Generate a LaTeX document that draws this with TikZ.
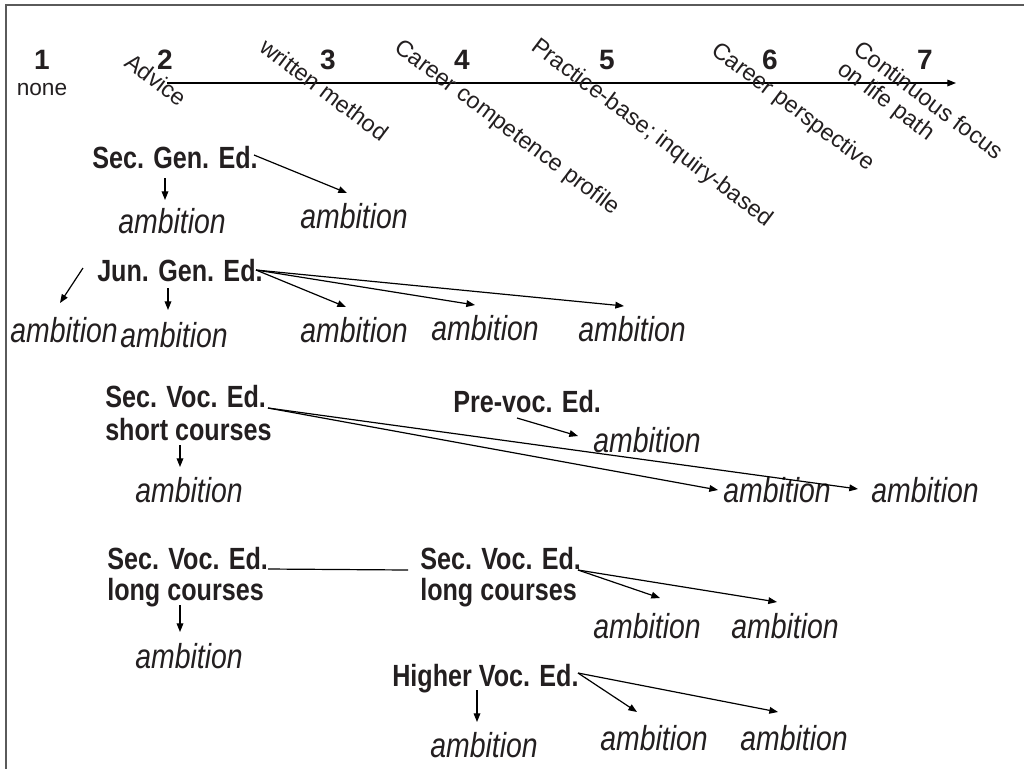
\documentclass[tikz,border=0pt]{standalone}
\usepackage{fontspec}
\setmainfont{Liberation Sans}
\newfontfamily\narrowfont[FakeStretch=0.82]{Liberation Sans}
\usetikzlibrary{arrows.meta,calc}
\definecolor{ink}{HTML}{231F20}
\definecolor{framegray}{HTML}{5A5A5A}
\tikzset{
  lbl/.style={inner sep=0pt, anchor=base west, text=ink,
    font=\narrowfont\bfseries\fontsize{23}{24}\selectfont},
  amb/.style={inner sep=0pt, anchor=base west, text=ink,
    font=\narrowfont\itshape\fontsize{26}{28}\selectfont},
  num/.style={inner sep=0pt, anchor=base, text=ink,
    font=\bfseries\fontsize{21}{24}\selectfont},
  lvl/.style={inner sep=0pt, anchor=base west, rotate=-37, text=ink,
    font=\fontsize{17.5}{20}\selectfont},
  arr/.style={-{Triangle[length=6.5pt,width=5pt]}, line width=0.9pt, draw=black},
  link/.style={line width=0.9pt, draw=black},
}
\begin{document}
\begin{tikzpicture}[x=0.75pt,y=-0.75pt]
\useasboundingbox (0,0) rectangle (1024,769);

% frame
\draw[framegray, line width=1.5pt] (1024,5) -- (6,5) -- (6,769);

% scale of levels
\node[num] (n1) at (42,69) {1};
\node[num] (n2) at (165,69) {2};
\node[num] (n3) at (328,69) {3};
\node[num] (n4) at (462,69) {4};
\node[num] (n5) at (607,69) {5};
\node[num] (n6) at (770,69) {6};
\node[num] (n7) at (925,69) {7};
\node[inner sep=0pt, anchor=base, text=ink, font=\fontsize{17}{20}\selectfont] (none) at (42,95) {none};

\coordinate (axL) at (167,83);
\coordinate (axR) at (956,83);
\draw[arr] (axL) -- (axR);

\node[lvl] (l2) at (123,65) {Advice};
\node[lvl] (l3) at (258,50) {written method};
\node[lvl] (l4) at (393,50) {Career competence profile};
\node[lvl] (l5) at (530,49) {Practice-base; inquiry-based};
\node[lvl] (l6) at (710,53) {Career perspective};
\node[lvl] (l7a) at (852,52) {Continuous focus};
\node[lvl] (l7b) at (836,72) {on life path};

% secondary general education
\node[lbl] (sge) at (92,168) {Sec. Gen. Ed.};
\node[amb] (a1) at (118,233) {ambition};
\node[amb] (a2) at (300,228) {ambition};
\draw[arr] ($(sge.base west)+(73,10)$) -- ($(a1.base west)+(47,-33)$);
\draw[arr] ($(sge.base west)+(162,-13)$) -- ($(a2.base west)+(47,-35)$);

% junior general education
\node[lbl] (jge) at (97,281) {Jun. Gen. Ed.};
\node[amb] (b1) at (10,342) {ambition};
\node[amb] (b2) at (120,347) {ambition};
\node[amb] (b3) at (300,342) {ambition};
\node[amb] (b4) at (431,340) {ambition};
\node[amb] (b5) at (578,341) {ambition};
\draw[arr] ($(jge.base west)+(-14,-13)$) -- ($(b1.base west)+(50,-39)$);
\draw[arr] ($(jge.base west)+(71,7)$) -- ($(b2.base west)+(48,-37)$);
\draw[arr] ($(jge.base west)+(159,-11)$) -- ($(b3.base west)+(46,-35)$);
\draw[arr] ($(jge.base west)+(159,-11)$) -- ($(b4.base west)+(44,-35)$);
\draw[arr] ($(jge.base west)+(159,-11)$) -- ($(b5.base west)+(46,-35)$);

% secondary vocational education, short courses
\node[lbl] (svs) at (105,407) {Sec. Voc. Ed.};
\node[lbl] (svs2) at (105,440) {short courses};
\node[amb] (c1) at (135,502) {ambition};
\node[lbl] (pve) at (453,412) {Pre-voc. Ed.};
\node[amb] (c2) at (593,452) {ambition};
\node[amb] (c3) at (723,502) {ambition};
\node[amb] (c4) at (871,502) {ambition};
\draw[arr] ($(svs2.base west)+(75,5)$) -- ($(c1.base west)+(45,-35)$);
\draw[arr] ($(svs.base west)+(163,1)$) -- ($(c3.base west)+(-5,-12)$);
\draw[arr] ($(svs.base west)+(163,1)$) -- ($(c4.base west)+(-13,-13)$);
\draw[arr] ($(pve.base west)+(64,6)$) -- ($(c2.base west)+(-15,-16)$);

% secondary vocational education, long courses
\node[lbl] (svl) at (107,569) {Sec. Voc. Ed.};
\node[lbl] (svl3) at (107,600) {long courses};
\node[amb] (d1) at (135,668) {ambition};
\node[lbl] (svr) at (420,569) {Sec. Voc. Ed.};
\node[lbl] (svr3) at (420,600) {long courses};
\node[amb] (d2) at (593,638) {ambition};
\node[amb] (d3) at (731,638) {ambition};
\draw[link] ($(svl.base west)+(161,0)$) -- ($(svr.base west)+(-12,1)$);
\draw[arr] ($(svl3.base west)+(73,5)$) -- ($(d1.base west)+(45,-36)$);
\draw[arr] ($(svr.base west)+(158,1)$) -- ($(d2.base west)+(67,-40)$);
\draw[arr] ($(svr.base west)+(158,1)$) -- ($(d3.base west)+(46,-36)$);

% higher vocational education
\node[lbl] (hve) at (392,686) {Higher Voc. Ed.};
\node[amb] (e1) at (430,757) {ambition};
\node[amb] (e2) at (600,750) {ambition};
\node[amb] (e3) at (740,750) {ambition};
\draw[arr] ($(hve.base west)+(85,4)$) -- ($(e1.base west)+(47,-35)$);
\draw[arr] ($(hve.base west)+(186,-13)$) -- ($(e2.base west)+(37,-38)$);
\draw[arr] ($(hve.base west)+(186,-13)$) -- ($(e3.base west)+(38,-38)$);
\end{tikzpicture}
\end{document}
